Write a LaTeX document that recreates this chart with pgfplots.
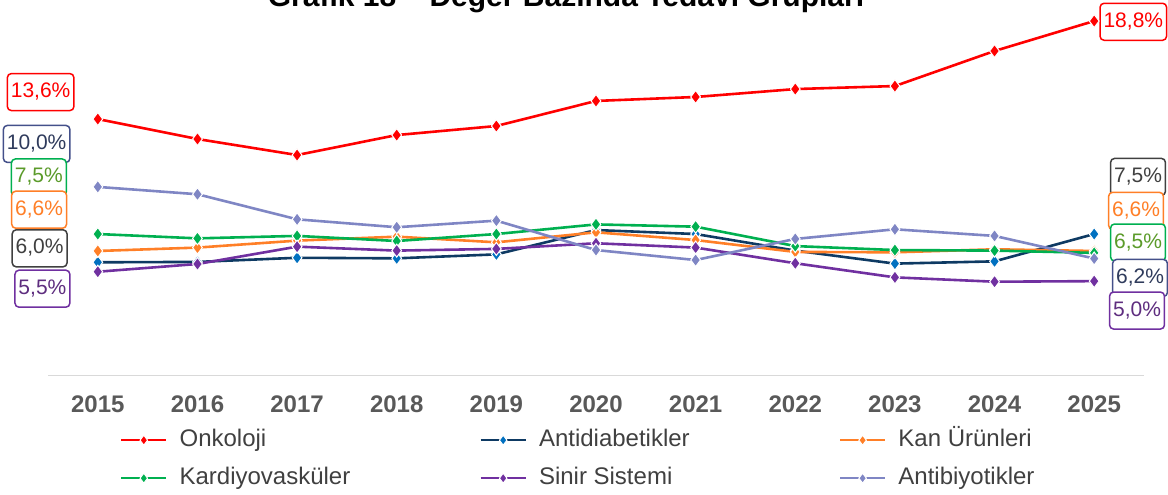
\documentclass[border=0pt]{standalone}
\usepackage{pgfplots}
\pgfplotsset{compat=1.18}
\usepackage{fontspec}
\setmainfont{Liberation Sans}
\definecolor{cOnk}{HTML}{FF0000}
\definecolor{cDiabL}{HTML}{0E3A63}
\definecolor{cDiabM}{HTML}{0070C0}
\definecolor{cKan}{HTML}{FF7F27}
\definecolor{cKar}{HTML}{00B050}
\definecolor{cSin}{HTML}{7030A0}
\definecolor{cAnt}{HTML}{7F86C4}
\definecolor{tickgray}{HTML}{595959}
\definecolor{leggray}{HTML}{404040}
\definecolor{axgray}{HTML}{D9D9D9}
\definecolor{navyTxt}{HTML}{2F3B5C}
\definecolor{navyBrd}{HTML}{44508A}
\definecolor{oliveTxt}{HTML}{5B9B2A}
\definecolor{purTxt}{HTML}{5E2D7F}
\tikzset{lbl/.style 2 args={draw=#1, text=#2, fill=white, rounded corners=4pt, line width=1.5pt,
  inner xsep=3.5pt, inner ysep=8.5pt, text height=15.5pt, text depth=4.5pt,
  font=\fontsize{21}{21}\selectfont}}
\begin{document}
\begin{tikzpicture}[x=1pt,y=1pt]
\begin{axis}[
  at={(48pt,119.6pt)}, anchor=south west,
  width=1096pt, height=377pt, scale only axis,
  xmin=-0.5, xmax=10.5, ymin=0, ymax=20,
  axis x line=bottom, axis y line=none,
  x axis line style={-, draw=axgray, line width=1.5pt},
  xtick={0,...,10},
  xticklabels={2015,2016,2017,2018,2019,2020,2021,2022,2023,2024,2025},
  major tick length=0pt,
  xticklabel style={font=\bfseries\fontsize{24}{24}\selectfont, text=tickgray, inner sep=0pt, yshift=-20pt},
  clip=false,
  every axis plot/.append style={line width=2.6pt, mark=diamond*, mark size=6.5pt},
  legend image code/.code={
    \draw[#1, mark repeat=2, mark phase=2, mark size=5pt, line width=2.2pt] plot coordinates {(0pt,0pt) (22.5pt,0pt) (45pt,0pt)};
    \path (57pt,0pt);
  },
  legend columns=3,
  legend style={at={(0.0657,-0.1409)}, anchor=north west, draw=none, fill=none,
    inner sep=0pt, column sep=0pt, row sep=15pt,
    font=\fontsize{24}{24}\selectfont, text=leggray,
    nodes={inner sep=0pt, text height=18pt, text depth=5pt, anchor=west}},
]
\addplot[color=cOnk, mark options={solid, fill=cOnk, draw=white, line width=1pt}] coordinates {
 (0,13.6) (1,12.54) (2,11.69) (3,12.75) (4,13.23) (5,14.56) (6,14.77) (7,15.19) (8,15.35) (9,17.21) (10,18.8)};
\addlegendentry{\makebox[300pt][l]{Onkoloji}}
\addplot[color=cDiabL, mark options={solid, fill=cDiabM, draw=white, line width=1pt}] coordinates {
 (0,6.0) (1,6.02) (2,6.24) (3,6.21) (4,6.42) (5,7.71) (6,7.50) (7,6.62) (8,5.93) (9,6.05) (10,7.5)};
\addlegendentry{\makebox[300pt][l]{Antidiabetikler}}
\addplot[color=cKan, mark options={solid, fill=cKan, draw=white, line width=1pt}] coordinates {
 (0,6.6) (1,6.78) (2,7.15) (3,7.36) (4,7.06) (5,7.59) (6,7.18) (7,6.55) (8,6.53) (9,6.69) (10,6.6)};
\addlegendentry{\makebox[300pt][l]{Kan Ürünleri}}
\addplot[color=cKar, mark options={solid, fill=cKar, draw=white, line width=1pt}] coordinates {
 (0,7.5) (1,7.27) (2,7.40) (3,7.13) (4,7.50) (5,8.01) (6,7.89) (7,6.86) (8,6.65) (9,6.62) (10,6.5)};
\addlegendentry{\makebox[300pt][l]{Kardiyovasküler}}
\addplot[color=cSin, mark options={solid, fill=cSin, draw=white, line width=1pt}] coordinates {
 (0,5.5) (1,5.91) (2,6.83) (3,6.62) (4,6.71) (5,7.01) (6,6.78) (7,5.95) (8,5.20) (9,4.97) (10,5.0)};
\addlegendentry{\makebox[300pt][l]{Sinir Sistemi}}
\addplot[color=cAnt, mark options={solid, fill=cAnt, draw=white, line width=1pt}] coordinates {
 (0,10.0) (1,9.61) (2,8.28) (3,7.86) (4,8.21) (5,6.65) (6,6.12) (7,7.24) (8,7.75) (9,7.40) (10,6.2)};
\addlegendentry{\makebox[300pt][l]{Antibiyotikler}}
% data labels
\node[lbl={cOnk}{cOnk}] at (axis cs:-0.574,15.03) {13,6\%};
\node[lbl={navyBrd}{navyTxt}] at (axis cs:-0.614,12.28) {10,0\%};
\node[lbl={cKar}{oliveTxt}] at (axis cs:-0.592,10.50) {7,5\%};
\node[lbl={cKan}{cKan}] at (axis cs:-0.589,8.79) {6,6\%};
\node[lbl={leggray}{leggray}] at (axis cs:-0.584,6.74) {6,0\%};
\node[lbl={cSin}{purTxt}] at (axis cs:-0.556,4.60) {5,5\%};
\node[lbl={cOnk}{cOnk}] at (axis cs:10.393,18.76) {18,8\%};
\node[lbl={leggray}{leggray}] at (axis cs:10.44,10.53) {7,5\%};
\node[lbl={cKan}{cKan}] at (axis cs:10.42,8.73) {6,6\%};
\node[lbl={cKar}{oliveTxt}] at (axis cs:10.44,7.05) {6,5\%};
\node[lbl={navyBrd}{navyTxt}] at (axis cs:10.46,5.17) {6,2\%};
\node[lbl={cSin}{purTxt}] at (axis cs:10.43,3.44) {5,0\%};
\end{axis}
\node[anchor=base, font=\bfseries\fontsize{30}{30}\selectfont] at (566pt,488pt) {Grafik 18 – Değer Bazında Tedavi Grupları};
\pgfresetboundingbox
\useasboundingbox (0pt,0pt) rectangle (1168pt,495pt);
\end{tikzpicture}
\end{document}
